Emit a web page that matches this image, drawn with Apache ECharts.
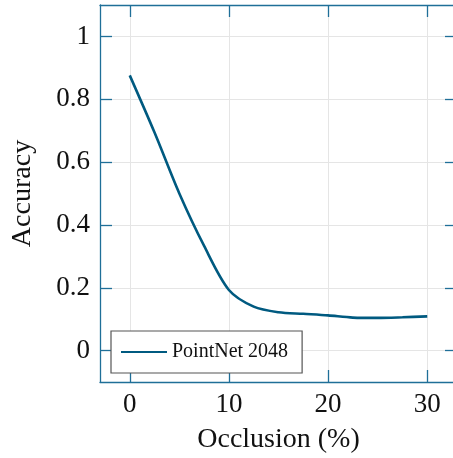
<!DOCTYPE html>
<html>
<head>
<meta charset="utf-8">
<script src="https://cdn.jsdelivr.net/npm/echarts@6/dist/echarts.min.js"></script>
<style>html,body{margin:0;padding:0;background:#fff}#c{width:453px;height:458px}</style>
</head>
<body>
<div id="c"></div>
<script>
const occlusion = [0, 2.5, 5, 7.5, 10, 12.5, 15, 17.5, 20, 22.5, 25, 27.5, 30];
const accuracy = [0.876, 0.694, 0.50, 0.333, 0.193, 0.140, 0.122, 0.117, 0.112, 0.105, 0.104, 0.106, 0.109];
const xTicks = [0, 10, 20, 30];
const yTicks = [0, 0.2, 0.4, 0.6, 0.8, 1];
const seriesName = 'PointNet 2048';

const axisColor = '#1f6f98';
const font = 'Liberation Serif';
const chart = echarts.init(document.getElementById('c'));
const common = {
  axisLine: {show: true, onZero: false, lineStyle: {color: axisColor, width: 1.3}},
  splitLine: {show: false}
};
chart.setOption({
  animation: false,
  grid: {left: 100, top: 5, width: 357, height: 377, show: false, outerBoundsMode: 'none', containLabel: false},
  xAxis: [
    Object.assign({}, common, {
      type: 'value', position: 'bottom', min: -3, max: 33,
      name: 'Occlusion (%)', nameLocation: 'middle', nameGap: 44,
      nameTextStyle: {fontFamily: font, fontSize: 28, color: '#111'},
      axisTick: {show: true, inside: true, length: 12, customValues: xTicks, lineStyle: {color: axisColor, width: 1.3}},
      axisLabel: {customValues: xTicks, margin: 9, fontFamily: font, fontSize: 27, color: '#111'},
      splitLine: {show: true, lineStyle: {color: '#e5e5e5', width: 1}}
    }),
    Object.assign({}, common, {
      type: 'value', position: 'top', min: -3, max: 33,
      axisTick: {show: true, inside: true, length: 12, customValues: xTicks, lineStyle: {color: axisColor, width: 1.3}},
      axisLabel: {show: false}
    })
  ],
  yAxis: [
    Object.assign({}, common, {
      type: 'value', position: 'left', min: -0.1, max: 1.1,
      name: 'Accuracy', nameLocation: 'middle', nameGap: 63, nameRotate: 90,
      nameTextStyle: {fontFamily: font, fontSize: 28, color: '#111'},
      axisTick: {show: true, inside: true, length: 12, customValues: yTicks, lineStyle: {color: axisColor, width: 1.3}},
      axisLabel: {customValues: yTicks, margin: 10, fontFamily: font, fontSize: 27, color: '#111'},
      splitLine: {show: true, lineStyle: {color: '#e5e5e5', width: 1}}
    }),
    Object.assign({}, common, {
      type: 'value', position: 'right', min: -0.1, max: 1.1,
      axisTick: {show: true, inside: true, length: 12, customValues: yTicks, lineStyle: {color: axisColor, width: 1.3}},
      axisLabel: {show: false}
    })
  ],
  legend: {
    left: 111, top: 331,
    orient: 'vertical',
    backgroundColor: '#fff',
    borderColor: '#555', borderWidth: 1.2, borderRadius: 0,
    padding: [11, 14, 11, 10],
    itemWidth: 46, itemHeight: 14, itemGap: 8,
    textStyle: {fontFamily: font, fontSize: 20, color: '#111'},
    data: [{name: seriesName, icon: 'path://M0,6L46,6L46,8L0,8Z'}]
  },
  series: [{
    name: seriesName,
    type: 'line',
    smooth: 0.3,
    symbol: 'none',
    data: occlusion.map((x, i) => [x, accuracy[i]]),
    lineStyle: {color: '#005a80', width: 2.6},
    itemStyle: {color: '#005a80'}
  }]
});
</script>
</body>
</html>
